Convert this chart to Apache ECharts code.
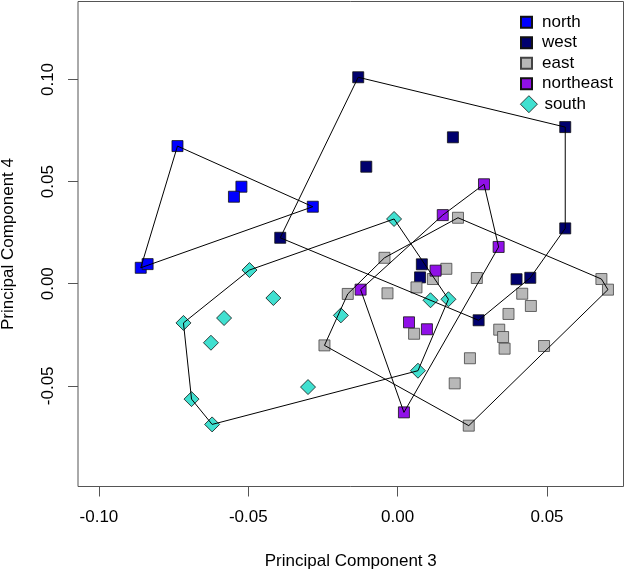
<!DOCTYPE html>
<html>
<head>
<meta charset="utf-8">
<script src="https://cdn.jsdelivr.net/npm/echarts@6/dist/echarts.min.js"></script>
<style>
  html, body { margin: 0; padding: 0; background: #fff; }
  #wrap { width: 627px; height: 569px; }
</style>
</head>
<body>
<div id="wrap"></div>
<script>
// PCA scores per region, [PC3, PC4]
var north = [[-0.0737, 0.0674], [-0.0523, 0.0475], [-0.0548, 0.0426], [-0.0284, 0.0377],
  [-0.0860, 0.0078], [-0.0837, 0.0096]];
var west = [[-0.0132, 0.1011], [0.0561, 0.0767], [0.0185, 0.0717], [-0.0105, 0.0573],
  [0.0561, 0.0271], [-0.0393, 0.0225], [0.0081, 0.0095], [0.0075, 0.0031],
  [0.0398, 0.0022], [0.0444, 0.0029], [0.0271, -0.0179]];
var east = [[0.0202, 0.0323], [-0.0044, 0.0127], [0.0163, 0.0073], [0.0118, 0.0023],
  [0.0063, -0.0018], [-0.0167, -0.0050], [-0.0034, -0.0047], [0.0265, 0.0028],
  [0.0682, 0.0023], [0.0704, -0.0029], [0.0417, -0.0049], [0.0446, -0.0109],
  [0.0371, -0.0148], [0.0340, -0.0225], [0.0353, -0.0261], [0.0358, -0.0318],
  [0.0055, -0.0245], [0.0242, -0.0365], [0.0490, -0.0305], [0.0191, -0.0488],
  [0.0238, -0.0695], [-0.0245, -0.0302]];
var northeast = [[0.0289, 0.0487], [0.0151, 0.0336], [0.0338, 0.0180], [0.0127, 0.0064],
  [-0.0124, -0.0029], [0.0038, -0.0189], [0.0098, -0.0223], [0.0021, -0.0630]];
var south = [[-0.0496, 0.0067], [-0.0416, -0.0070], [-0.0581, -0.0168], [-0.0717, -0.0192],
  [-0.0625, -0.0289], [-0.0690, -0.0565], [-0.0621, -0.0689], [-0.0300, -0.0506],
  [-0.0190, -0.0155], [-0.0012, 0.0317], [0.0110, -0.0081], [0.0170, -0.0076],
  [0.0068, -0.0426]];

var xTicks = [-0.10, -0.05, 0.00, 0.05];
var xTickLabels = ['-0.10', '-0.05', '0.00', '0.05'];
var yTicks = [-0.05, 0.00, 0.05, 0.10];
var yTickLabels = ['-0.05', '0.00', '0.05', '0.10'];

var groups = [
  { name: 'north', data: north, color: '#0000ff', shape: 'square' },
  { name: 'west', data: west, color: '#00006e', shape: 'square' },
  { name: 'east', data: east, color: '#b8b8b8', shape: 'square' },
  { name: 'northeast', data: northeast, color: '#9010e8', shape: 'square' },
  { name: 'south', data: south, color: '#40e0d0', shape: 'diamond' }
];

var SQUARE = 'path://M0,0H10V10H0Z';
var DIAMOND = 'path://M5,0L10,5L5,10L0,5Z';
var FONT = 'Liberation Sans, Arial, sans-serif';

// convex hull (monotone chain)
function hull(pts) {
  var p = pts.slice().sort(function (a, b) { return a[0] - b[0] || a[1] - b[1]; });
  function cross(o, a, b) { return (a[0] - o[0]) * (b[1] - o[1]) - (a[1] - o[1]) * (b[0] - o[0]); }
  var lower = [], upper = [];
  p.forEach(function (q) {
    while (lower.length >= 2 && cross(lower[lower.length - 2], lower[lower.length - 1], q) <= 0) lower.pop();
    lower.push(q);
  });
  for (var i = p.length - 1; i >= 0; i--) {
    var q = p[i];
    while (upper.length >= 2 && cross(upper[upper.length - 2], upper[upper.length - 1], q) <= 0) upper.pop();
    upper.push(q);
  }
  lower.pop();
  return lower.concat(upper);
}

var series = [];
groups.forEach(function (g) {
  series.push({
    name: g.name,
    type: 'scatter',
    data: g.data,
    symbol: g.shape === 'diamond' ? 'diamond' : 'rect',
    symbolSize: g.shape === 'diamond' ? 15 : 11,
    itemStyle: { color: g.color, borderColor: g.name === 'east' ? '#444' : '#111', borderWidth: 0.8, opacity: 1 },
    z: 2,
    animation: false
  });
});
groups.forEach(function (g) {
  series.push({
    name: g.name + ' hull',
    type: 'line',
    data: hull(g.data),
    symbol: 'none',
    lineStyle: { color: '#000', width: 1 },
    silent: true,
    z: 3,
    animation: false
  });
});

var myChart = echarts.init(document.getElementById('wrap'));
var option = {
  backgroundColor: '#fff',
  animation: false,
  textStyle: { fontFamily: FONT },
  grid: {
    show: true,
    left: 78, right: 3.5, top: 1.5, bottom: 82.5,
    borderColor: '#555', borderWidth: 1,
    containLabel: false,
    outerBoundsMode: 'none'
  },
  legend: [
    {
      data: [
        { name: 'north', icon: SQUARE },
        { name: 'west', icon: SQUARE },
        { name: 'east', icon: SQUARE },
        { name: 'northeast', icon: SQUARE }
      ],
      orient: 'vertical',
      left: 520, top: 13.8,
      itemWidth: 21, itemHeight: 11, itemGap: 3.5,
      padding: 0,
      textStyle: { fontSize: 17, color: '#000', fontFamily: FONT },
      selectedMode: false
    },
    {
      data: [{ name: 'south', icon: DIAMOND }],
      orient: 'vertical',
      left: 520, top: 95.3,
      itemWidth: 21, itemHeight: 17,
      padding: 0,
      itemStyle: { borderWidth: 0.8 },
      textStyle: { fontSize: 17, color: '#000', fontFamily: FONT },
      selectedMode: false
    }
  ],
  xAxis: {
    type: 'value',
    min: -0.107, max: 0.0756,
    name: 'Principal Component 3',
    nameLocation: 'middle',
    nameGap: 66,
    nameTextStyle: { fontSize: 17, color: '#000', fontFamily: FONT },
    axisLine: { show: false, onZero: false },
    splitLine: { show: false },
    axisTick: { show: true, inside: false, length: 10, customValues: xTicks, lineStyle: { color: '#555' } },
    axisLabel: {
      customValues: xTicks,
      margin: 22,
      fontSize: 17, color: '#000', fontFamily: FONT,
      formatter: function (v) {
        var i = xTicks.findIndex(function (t) { return Math.abs(t - v) < 1e-9; });
        return i >= 0 ? xTickLabels[i] : '';
      }
    }
  },
  yAxis: {
    type: 'value',
    min: -0.0993, max: 0.1382,
    name: 'Principal Component 4',
    nameLocation: 'middle',
    nameGap: 61,
    nameTextStyle: { fontSize: 17, color: '#000', fontFamily: FONT },
    axisLine: { show: false, onZero: false },
    splitLine: { show: false },
    axisTick: { show: true, inside: false, length: 10, customValues: yTicks, lineStyle: { color: '#555' } },
    axisLabel: {
      customValues: yTicks,
      rotate: 90,
      margin: 21,
      fontSize: 17, color: '#000', fontFamily: FONT,
      formatter: function (v) {
        var i = yTicks.findIndex(function (t) { return Math.abs(t - v) < 1e-9; });
        return i >= 0 ? yTickLabels[i] : '';
      }
    }
  },
  series: series
};
myChart.setOption(option);
</script>
</body>
</html>
